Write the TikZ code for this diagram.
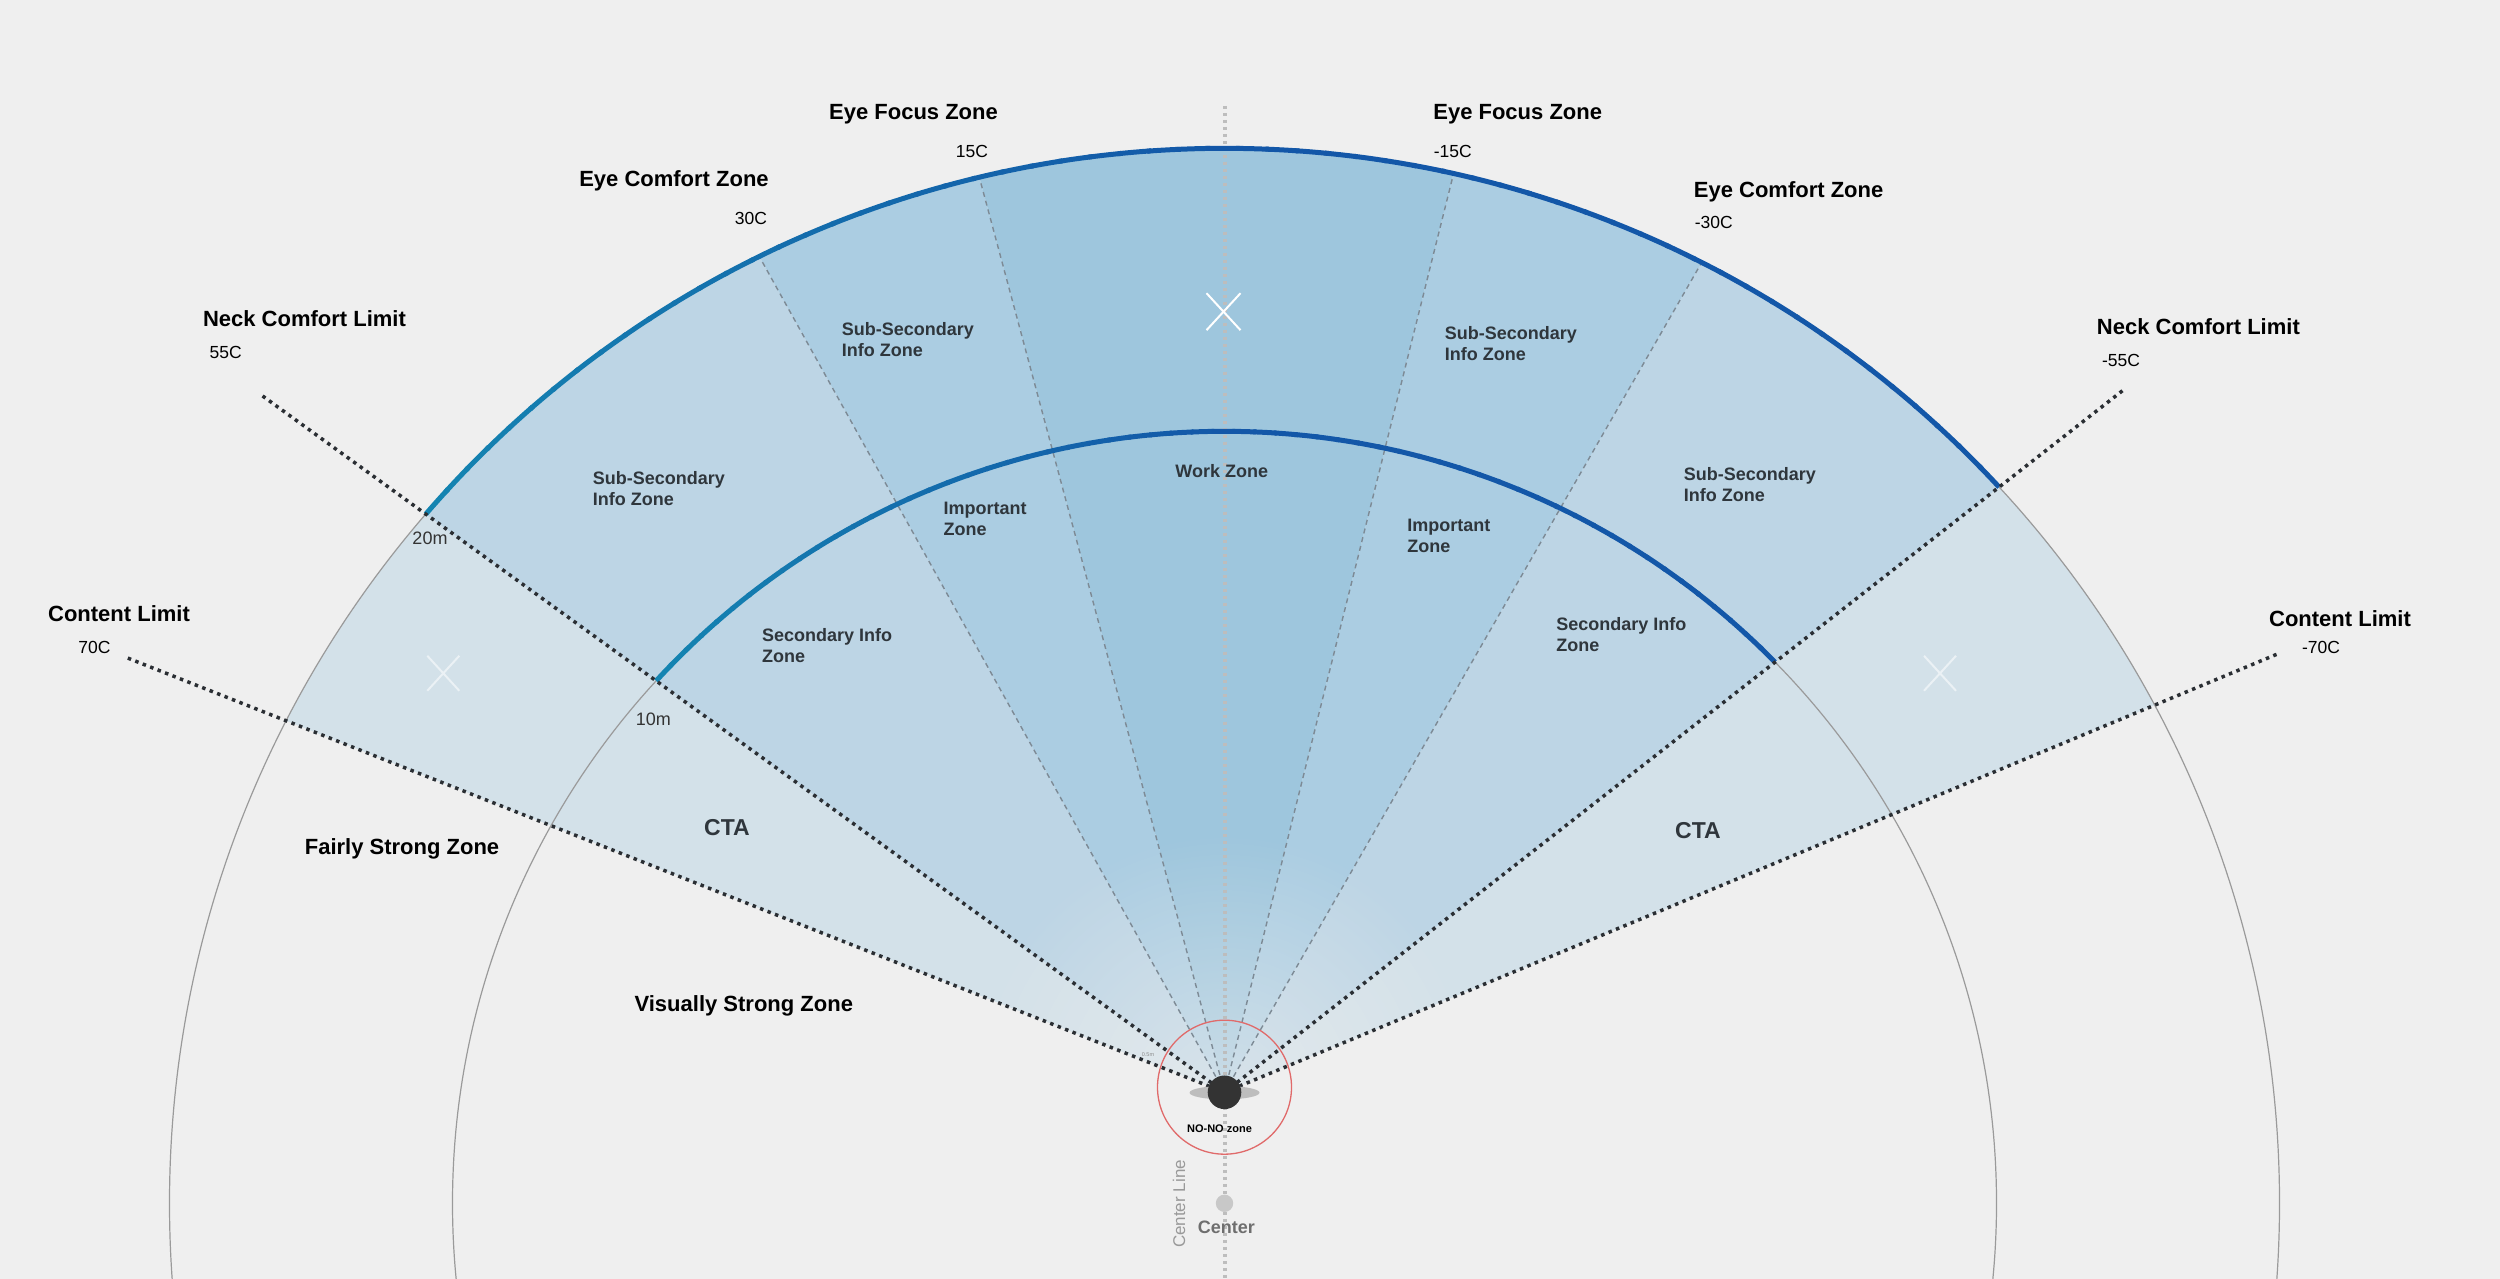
\documentclass[tikz,border=0pt]{standalone}
\usepackage{fontspec}
\setmainfont{Liberation Sans}
\usetikzlibrary{fadings}
\definecolor{bgc}{HTML}{EFEFEF}
\definecolor{band1}{HTML}{9EC6DD}
\definecolor{band2}{HTML}{ABCDE2}
\definecolor{band3}{HTML}{BDD5E5}
\definecolor{band4}{HTML}{D3E1E9}
\definecolor{arcT}{HTML}{1484B1}
\definecolor{arcB}{HTML}{1357A8}
\definecolor{zonetxt}{HTML}{2F363C}
\definecolor{ringgray}{HTML}{9A9A9A}
\definecolor{raydark}{HTML}{2A2E33}
\definecolor{cline}{HTML}{BDBDBD}
\definecolor{guide}{HTML}{7D8A95}
\definecolor{nored}{HTML}{E06A6A}
\definecolor{eyedark}{HTML}{333333}
\definecolor{eyegray}{HTML}{BDBDBD}
\definecolor{dotgray}{HTML}{C8C8C8}
\tikzfading[name=eyefade, inner color=transparent!45, outer color=transparent!100]
\begin{document}
\begin{tikzpicture}[x=1pt,y=1pt,
  lbl/.style={font=\bfseries\fontsize{22}{26}\selectfont, text=black, inner sep=0pt},
  ang/.style={font=\fontsize{17.5}{20}\selectfont, text=black, inner sep=0pt},
  zone/.style={font=\bfseries\fontsize{18}{21}\selectfont, text=zonetxt, align=left, inner sep=0pt, anchor=west},
  dist/.style={font=\fontsize{18}{20}\selectfont, text=black!80, inner sep=0pt},
  ray/.style={draw=raydark, line width=3.5pt, dash pattern=on 3.5pt off 4.5pt},
  guideline/.style={draw=guide, line width=1.4pt, dash pattern=on 5pt off 4pt},
  ring/.style={draw=ringgray, line width=1.2pt},
  xmark/.style={draw=white, line width=2pt},
]
\useasboundingbox (0,0) rectangle (2500,1279);
\clip (0,0) rectangle (2500,1279);
\fill[bgc] (0,0) rectangle (2500,1279);
\coordinate (C) at (1224.5,75.7);
\coordinate (E) at (1224.5,186.7);

% fan sectors
\begin{scope}
  \clip (C) circle[radius=1055];
  \fill[band4] (E) -- +(144.1:1500) -- +(158.4:1500) -- cycle;
  \fill[band4] (E) -- +(38:1500) -- +(22.6:1500) -- cycle;
  \fill[band3] (E) -- +(119.1:1500) -- +(144.1:1500) -- cycle;
  \fill[band3] (E) -- +(60.1:1500) -- +(38:1500) -- cycle;
  \fill[band2] (E) -- +(105:1500) -- +(119.1:1500) -- cycle;
  \fill[band2] (E) -- +(76:1500) -- +(60.1:1500) -- cycle;
  \fill[band1] (E) -- +(76:1500) -- +(105:1500) -- cycle;
  \fill[bgc, path fading=eyefade] (E) circle[radius=260];
  \foreach \a in {105,119.1,76,60.1} \draw[guideline] (E) -- +(\a:1200);
\end{scope}

% center line
\coordinate (CLtop) at (1224.5,1173);
\coordinate (CLbot) at (1224.5,0);
\draw[draw=cline, line width=4pt, dash pattern=on 3.5pt off 3.5pt] (CLtop) -- (CLbot);

% distance rings
\draw[ring] (C) circle[radius=772];
\draw[ring] (C) circle[radius=1055];

% blue arcs with teal-to-blue gradient
\foreach \i in {0,...,59}{
  \pgfmathsetmacro\sa{139.21-\i*(139.21-42.76)/60}
  \pgfmathsetmacro\ea{max(\sa-(139.21-42.76)/60-0.2,42.76)}
  \pgfmathtruncatemacro\p{min(100,\i*100/30)}
  \draw[line width=5pt, color=arcB!\p!arcT] (C) ++(\sa:1055) arc[start angle=\sa, end angle=\ea, radius=1055];
  \pgfmathsetmacro\sb{137.41-\i*(137.41-44.51)/60}
  \pgfmathsetmacro\eb{max(\sb-(137.41-44.51)/60-0.2,44.51)}
  \draw[line width=5pt, color=arcB!\p!arcT] (C) ++(\sb:772) arc[start angle=\sb, end angle=\eb, radius=772];
}

% limit rays
\path (E) +(144.1:1190) coordinate (L55);
\path (E) +(158.4:1180) coordinate (L70);
\path (E) +(38:1140) coordinate (R55);
\path (E) +(22.6:1144) coordinate (R70);
\draw[ray] (E) -- (L55);
\draw[ray] (E) -- (L70);
\draw[ray] (E) -- (R55);
\draw[ray] (E) -- (R70);

% X marks
\coordinate (X1) at (1223.5,967.3);
\coordinate (X2) at (443.3,605.7);
\coordinate (X3) at (1940,605.7);
\draw[xmark] (X1) +(-17,-18.5) -- +(17,18.5) +(-17,18.5) -- +(17,-18.5);
\draw[xmark, draw opacity=0.55] (X2) +(-16,-17.5) -- +(16,17.5) +(-16,17.5) -- +(16,-17.5);
\draw[xmark, draw opacity=0.55] (X3) +(-16,-17.5) -- +(16,17.5) +(-16,17.5) -- +(16,-17.5);

% eye and no-no zone
\node[circle, draw=nored, line width=1.3pt, minimum size=134pt, inner sep=0pt] (nono) at (1224.5,191.8) {};
\fill[eyegray] (1224.5,186.3) ellipse[x radius=35, y radius=6.7];
\node[circle, fill=eyedark, minimum size=33.6pt, inner sep=0pt] (eye) at (E) {};
\node[circle, fill=dotgray, minimum size=17.4pt, inner sep=0pt] (cdot) at (C) {};

% header labels
\node[lbl] (efl) at (913.5,1164.4) {Eye Focus Zone};
\node[ang] (a15) at (972,1128) {15C};
\node[lbl] (efr) at (1517.7,1164.4) {Eye Focus Zone};
\node[ang] (am15) at (1452.7,1127.3) {-15C};
\node[lbl] (ecl) at (674,1098) {Eye Comfort Zone};
\node[ang] (a30) at (751,1060.7) {30C};
\node[lbl] (ecr) at (1788.6,1086.7) {Eye Comfort Zone};
\node[ang] (am30) at (1713.8,1056.3) {-30C};
\node[lbl] (ncl) at (304.5,960.1) {Neck Comfort Limit};
\node[ang] (a55) at (225.6,926.6) {55C};
\node[lbl] (ncr) at (2198.4,952.3) {Neck Comfort Limit};
\node[ang] (am55) at (2121,918.3) {-55C};
\node[lbl] (cll) at (119,665.7) {Content Limit};
\node[ang] (a70) at (94.4,631.3) {70C};
\node[lbl] (clr) at (2340,660.7) {Content Limit};
\node[ang] (am70) at (2321,631.3) {-70C};

% zone labels
\node[zone] (ss1) at (841.6,939.3) {Sub-Secondary\\Info Zone};
\node[zone] (ss2) at (592.7,790.2) {Sub-Secondary\\Info Zone};
\node[zone] (ss3) at (1444.6,935.7) {Sub-Secondary\\Info Zone};
\node[zone] (ss4) at (1683.7,794.8) {Sub-Secondary\\Info Zone};
\node[zone] (imp1) at (943.4,760.2) {Important\\Zone};
\node[zone] (imp2) at (1407.2,743.3) {Important\\Zone};
\node[zone, anchor=center] (work) at (1221.8,808.3) {Work Zone};
\node[zone] (sec1) at (762,633.7) {Secondary Info\\Zone};
\node[zone] (sec2) at (1556.1,644.5) {Secondary Info\\Zone};
\node[font=\bfseries\fontsize{23}{26}\selectfont, text=zonetxt, inner sep=0pt] (cta1) at (727,451.5) {CTA};
\node[font=\bfseries\fontsize{23}{26}\selectfont, text=zonetxt, inner sep=0pt] (cta2) at (1698,448.3) {CTA};
\node[lbl] (fsz) at (402,430.3) {Fairly Strong Zone};
\node[lbl] (vsz) at (743.8,273) {Visually Strong Zone};
\node[dist] (d20) at (430,740.7) {20m};
\node[dist] (d10) at (653.3,559.7) {10m};
\node[font=\fontsize{5.5}{6}\selectfont, text=black!45, inner sep=0pt] (d05) at (1148,224) {0.5m};
\node[font=\bfseries\fontsize{11}{12}\selectfont, text=black, inner sep=0pt] (nonolbl) at (1219.5,150) {NO-NO zone};
\node[font=\bfseries\fontsize{18}{20}\selectfont, text=black!57, inner sep=0pt] (ctr) at (1226.3,51.7) {Center};
\node[font=\fontsize{17}{20}\selectfont, text=black!40, inner sep=0pt, rotate=90] (ctrl) at (1179,75) {Center Line};
\end{tikzpicture}
\end{document}
